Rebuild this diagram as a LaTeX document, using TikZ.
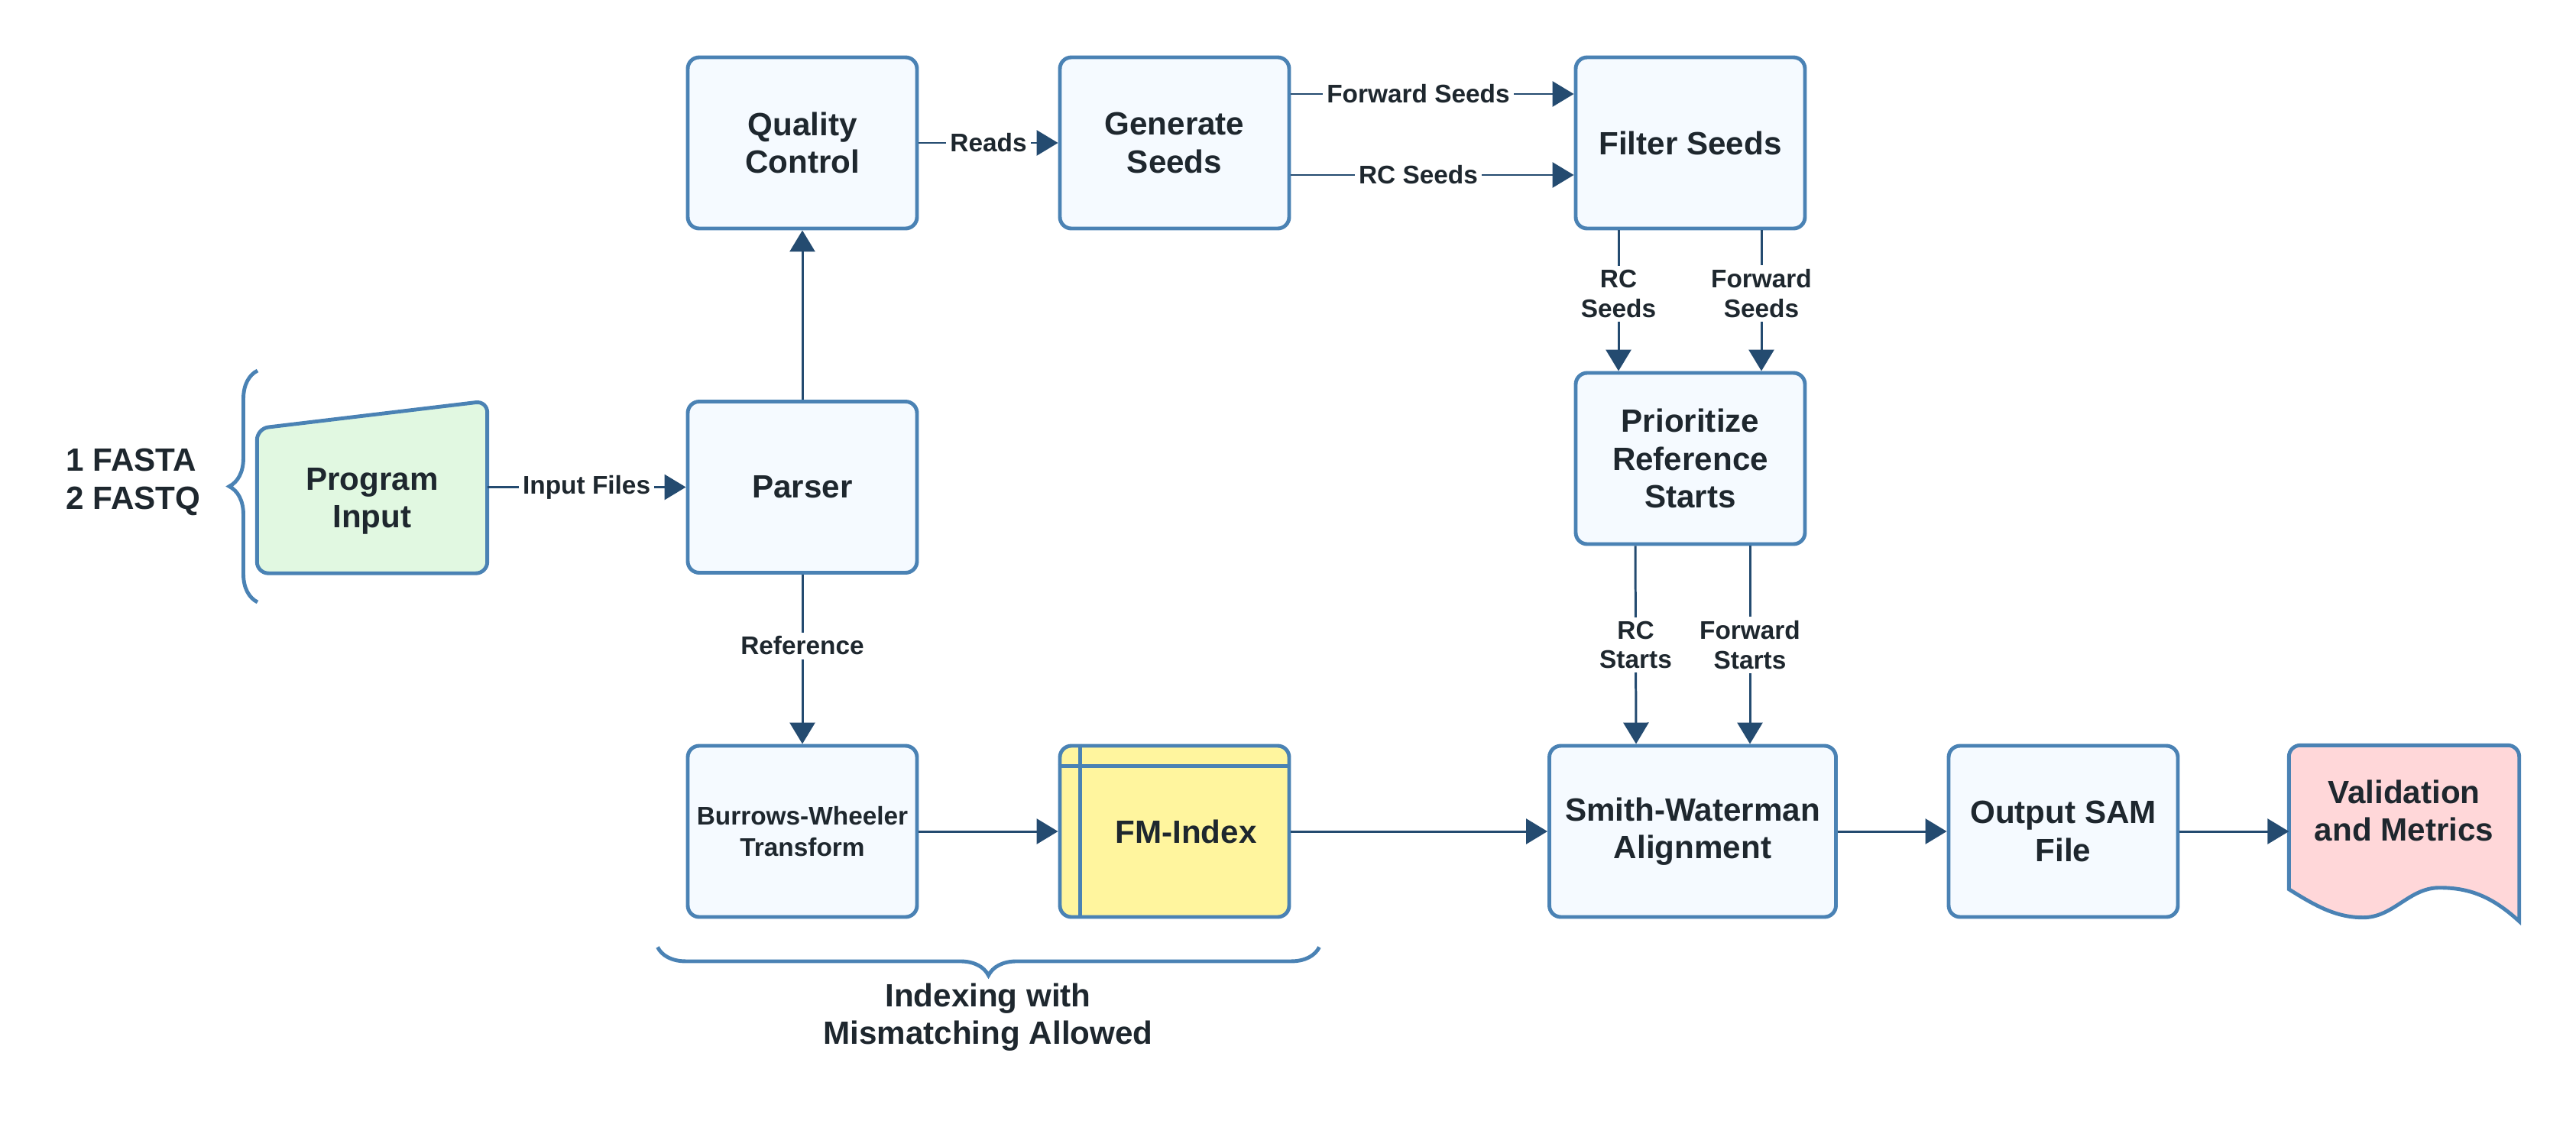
\documentclass[tikz,border=0pt]{standalone}
\usepackage{fontspec}
\setmainfont{Liberation Sans}
\usepackage{xcolor}
\usetikzlibrary{arrows.meta,positioning,decorations.pathreplacing}
\definecolor{edgeblue}{HTML}{4A82B4}
\definecolor{arrowblue}{HTML}{244B70}
\definecolor{boxfill}{HTML}{F5FAFF}
\definecolor{ingreen}{HTML}{E1F8E1}
\definecolor{fmyellow}{HTML}{FFF59E}
\definecolor{valpink}{HTML}{FFD7D9}
\definecolor{inkdark}{HTML}{1E272E}
\begin{document}
\begin{tikzpicture}[
  box/.style={draw=edgeblue, line width=1.4pt, rounded corners=0.15cm, fill=boxfill, align=center, minimum width=3.0cm, minimum height=2.24cm, text=inkdark, font=\bfseries\fontsize{12}{14}\selectfont},
  ghost/.style={minimum width=3.0cm, minimum height=2.24cm, inner sep=0pt},
  txt/.style={align=center, text=inkdark, font=\bfseries\fontsize{12}{14}\selectfont},
  outline/.style={draw=edgeblue, line width=1.4pt},
  arr/.style={-{Triangle[length=0.28cm,width=0.33cm]}, line width=0.85pt, draw=arrowblue},
  lbl/.style={fill=white, inner sep=1.5pt, align=center, text=inkdark, font=\bfseries\fontsize{9.5}{11}\selectfont},
  brc/.style={outline, decorate, decoration={brace, amplitude=0.37cm}}
]
\useasboundingbox (0,0) rectangle (33.71,-14.66);
\node[box] (qc) at (10.50,-1.87) {Quality\\Control};
\node[box] (gen) at (15.37,-1.87) {Generate\\Seeds};
\node[box] (filt) at (22.12,-1.87) {Filter Seeds};
\node[box] (prior) at (22.12,-6.00) {Prioritize\\Reference\\Starts};
\node[box] (parser) at (10.50,-6.375) {Parser};
\node[ghost] (pin) at (4.87,-6.375) {};
\node[box, font=\bfseries\fontsize{9.5}{11.5}\selectfont] (bwt) at (10.50,-10.88) {Burrows-Wheeler\\Transform};
\node[box, fill=fmyellow] (fm) at (15.37,-10.88) {\hspace*{0.3cm}FM-Index};
\node[box, minimum width=3.75cm] (sw) at (22.15,-10.88) {Smith-Waterman\\Alignment};
\node[box] (sam) at (27.00,-10.88) {Output SAM\\File};
\node[ghost] (val) at (31.46,-10.88) {};
% odd shapes
\draw[outline, fill=ingreen, rounded corners=0.15cm] (pin.south west) -- ([yshift=-0.36cm]pin.north west) -- (pin.north east) -- (pin.south east) -- cycle;
\node[txt] (pintxt) at ([yshift=-0.18cm]pin.center) {Program\\Input};
\draw[outline, fill=valpink] ([yshift=0.37cm]val.south west) -- ([yshift=-0.15cm]val.north west) arc[start angle=180, end angle=90, radius=0.15cm] -- ([xshift=-0.15cm]val.north east) arc[start angle=90, end angle=0, radius=0.15cm] -- ([yshift=-0.05cm]val.south east) .. controls +(-0.35,0.32) and +(0.4,0) .. ([shift={(1.97cm,0.39cm)}]val.south west) .. controls +(-0.4,0) and +(0.4,0) .. ([xshift=0.97cm]val.south west) .. controls +(-0.35,0) and +(0.35,-0.22) .. ([yshift=0.37cm]val.south west) -- cycle;
\node[txt] (valtxt) at ([yshift=0.27cm]val.center) {Validation\\and Metrics};
\draw[outline] ([xshift=0.29cm]fm.north west) -- ([xshift=0.29cm]fm.south west);
\draw[outline] ([yshift=-0.29cm]fm.north west) -- ([yshift=-0.29cm]fm.north east);
% braces
\node[txt, align=left, anchor=west] (files) at (0.74,-6.31) {1 FASTA\\2 FASTQ};
\draw[brc] (3.37,-7.88) -- (3.37,-4.85);
\draw[brc, decoration={mirror}] ([shift={(-0.37cm,-0.37cm)}]bwt.south west) -- ([shift={(0.37cm,-0.37cm)}]fm.south east);
\node[txt] (idx) at (12.93,-13.31) {Indexing with\\Mismatching Allowed};
% connectors
\draw[arr] (pin) -- node[lbl] {Input Files} (parser);
\draw[arr] (parser) -- (qc);
\draw[arr] (qc) -- node[lbl] {Reads} (gen);
\draw[arr] ([yshift=0.64cm]gen.east) -- node[lbl, pos=0.45] {Forward Seeds} ([yshift=0.64cm]filt.west);
\draw[arr] ([yshift=-0.42cm]gen.east) -- node[lbl, pos=0.45] {RC Seeds} ([yshift=-0.42cm]filt.west);
\draw[arr] ([xshift=-0.94cm]filt.south) -- node[lbl, pos=0.45] {RC\\Seeds} ([xshift=-0.94cm]prior.north);
\draw[arr] ([xshift=0.93cm]filt.south) -- node[lbl, pos=0.45] {Forward\\Seeds} ([xshift=0.93cm]prior.north);
\draw[arr] ([xshift=-0.72cm]prior.south) -- node[lbl] {RC\\Starts} ([xshift=-0.74cm]sw.north);
\draw[arr] ([xshift=0.78cm]prior.south) -- node[lbl] {Forward\\Starts} ([xshift=0.75cm]sw.north);
\draw[arr] (parser) -- node[lbl, pos=0.42] {Reference} (bwt);
\draw[arr] (bwt) -- (fm); \draw[arr] (fm) -- (sw); \draw[arr] (sw) -- (sam); \draw[arr] (sam) -- (val);
\end{tikzpicture}
\end{document}
